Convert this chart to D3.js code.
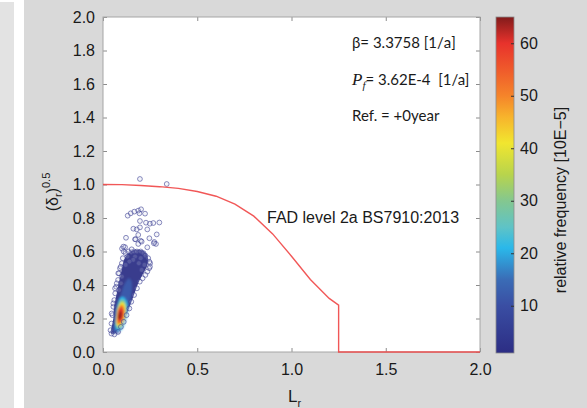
<!DOCTYPE html>
<html>
<head>
<meta charset="utf-8">
<script src="https://cdn.jsdelivr.net/npm/d3@7"></script>
<style>
  body { margin: 0; background: #fff; }
  text { font-family: "Liberation Sans", Arial, sans-serif; fill: #1a1a1a; }
  .note { font-family: Lato, "Open Sans", sans-serif; }
</style>
</head>
<body>
<svg width="587" height="408"></svg>
<script>
// ---- data ----
var xTicks = [0, 0.5, 1.0, 1.5, 2.0];
var yTicks = [0, 0.2, 0.4, 0.6, 0.8, 1.0, 1.2, 1.4, 1.6, 1.8, 2.0];
var cbTicks = [10, 20, 30, 40, 50, 60];

// FAD level 2a curve (Lr, Kr)
var fadLr = [0, 0.1, 0.2, 0.3, 0.4, 0.5, 0.6, 0.7, 0.8, 0.9, 1.0, 1.1, 1.2, 1.25, 1.25, 2.0];
var fadKr = [1.0, 0.999, 0.994, 0.987, 0.977, 0.958, 0.930, 0.883, 0.811, 0.705, 0.572, 0.433, 0.320, 0.280, 0, 0];

// sparse points (Lr, sqrt(delta_r))
var outliers = [
  [0.196, 1.033], [0.338, 1.003],
  [0.131, 0.814], [0.147, 0.828], [0.166, 0.838], [0.187, 0.844], [0.202, 0.852], [0.193, 0.828],
  [0.223, 0.826], [0.196, 0.782], [0.228, 0.772], [0.249, 0.766], [0.267, 0.770], [0.299, 0.773],
  [0.161, 0.736], [0.179, 0.732], [0.196, 0.744], [0.235, 0.732], [0.187, 0.699], [0.285, 0.702],
  [0.122, 0.682], [0.173, 0.673], [0.200, 0.664], [0.246, 0.679], [0.272, 0.657], [0.281, 0.645],
  [0.187, 0.645], [0.235, 0.625], [0.101, 0.617], [0.117, 0.626], [0.152, 0.613], [0.108, 0.629],
  [0.205, 0.659], [0.170, 0.673], [0.249, 0.509], [0.246, 0.539], [0.270, 0.649]
];

// points on the rim of the dense cloud
var rimPoints = [
  [0.11, 0.60], [0.12, 0.59], [0.135, 0.60], [0.15, 0.595], [0.165, 0.60], [0.18, 0.60], [0.20, 0.60],
  [0.215, 0.59], [0.225, 0.575], [0.24, 0.56], [0.25, 0.53], [0.245, 0.50], [0.235, 0.48], [0.225, 0.46],
  [0.21, 0.44], [0.195, 0.42], [0.18, 0.38], [0.165, 0.34], [0.15, 0.30], [0.14, 0.26], [0.125, 0.22],
  [0.11, 0.18], [0.095, 0.15], [0.08, 0.12], [0.06, 0.105], [0.045, 0.11], [0.04, 0.13], [0.045, 0.17],
  [0.05, 0.22], [0.055, 0.27], [0.06, 0.31], [0.065, 0.35], [0.07, 0.39], [0.08, 0.43], [0.085, 0.47],
  [0.09, 0.50], [0.10, 0.53], [0.105, 0.56], [0.13, 0.57], [0.17, 0.57], [0.20, 0.56], [0.19, 0.53],
  [0.16, 0.55], [0.14, 0.54], [0.12, 0.52], [0.22, 0.52], [0.205, 0.49], [0.10, 0.45], [0.095, 0.41],
  [0.085, 0.37], [0.094, 0.509], [0.081, 0.47], [0.073, 0.41], [0.064, 0.38], [0.055, 0.29], [0.046, 0.23]
];

// density contours: frequency value and outline (Lr, sqrt(delta_r))
var levelValues = [2, 12, 21, 30, 41, 51, 59, 64];
var levelShapes = [
  [[0.041, 0.117], [0.055, 0.201], [0.058, 0.271], [0.073, 0.35], [0.087, 0.43], [0.099, 0.49], [0.108, 0.539],
   [0.126, 0.579], [0.152, 0.605], [0.187, 0.61], [0.214, 0.605], [0.232, 0.585], [0.24, 0.549], [0.232, 0.509],
   [0.214, 0.47], [0.187, 0.41], [0.161, 0.33], [0.134, 0.251], [0.108, 0.181], [0.081, 0.131], [0.058, 0.107]],
  [[0.051, 0.121], [0.064, 0.191], [0.081, 0.291], [0.108, 0.39], [0.134, 0.44], [0.152, 0.42], [0.152, 0.35],
   [0.134, 0.251], [0.108, 0.161], [0.081, 0.111]],
  [[0.064, 0.161], [0.069, 0.251], [0.087, 0.32], [0.111, 0.327], [0.129, 0.291], [0.126, 0.211], [0.104, 0.141], [0.076, 0.127]],
  [[0.067, 0.171], [0.073, 0.251], [0.09, 0.306], [0.111, 0.31], [0.124, 0.275], [0.12, 0.207], [0.101, 0.151], [0.078, 0.141]],
  [[0.069, 0.181], [0.076, 0.251], [0.094, 0.294], [0.111, 0.294], [0.12, 0.261], [0.115, 0.201], [0.097, 0.161], [0.078, 0.155]],
  [[0.073, 0.191], [0.078, 0.251], [0.094, 0.281], [0.108, 0.275], [0.115, 0.241], [0.108, 0.191], [0.09, 0.167], [0.076, 0.167]],
  [[0.076, 0.201], [0.081, 0.245], [0.094, 0.267], [0.106, 0.257], [0.108, 0.221], [0.099, 0.187], [0.085, 0.181]],
  [[0.08, 0.211], [0.087, 0.241], [0.097, 0.245], [0.101, 0.221], [0.094, 0.197], [0.083, 0.195]]
];

// colormap stops
var cmapValues = [1, 10, 15, 21, 25, 30, 35, 41, 46, 50, 55, 60, 65];
var cmapColors = ["#2c2d84", "#3a4ea3", "#3a6cb6", "#2ab8ea", "#5fc3c6", "#84c78f", "#b8d44c",
                  "#f1e62f", "#f7b32c", "#f5842a", "#ef5a2b", "#e8322c", "#821b1b"];

// ---- drawing ----
var svg = d3.select("svg");
var color = d3.scaleLinear().domain(cmapValues).range(cmapColors);

var x = d3.scaleLinear().domain([0, 2]).range([103, 480]);
var y = d3.scaleLinear().domain([0, 2]).range([352, 17]);
var cy = d3.scaleLinear().domain([1, 65]).range([353, 17]);

// backgrounds
svg.append("rect").attr("x", 0).attr("y", 2).attr("width", 14).attr("height", 406).attr("fill", "#e3e3e3");
svg.append("rect").attr("x", 24).attr("y", 0).attr("width", 563).attr("height", 408).attr("fill", "#d9d9d9");
svg.append("rect").attr("x", 103).attr("y", 17).attr("width", 377).attr("height", 335).attr("fill", "#fff");

var defs = svg.append("defs");
defs.append("filter").attr("id", "soft").append("feGaussianBlur").attr("stdDeviation", 1.1);
defs.append("clipPath").attr("id", "plotclip").append("rect")
    .attr("x", 103).attr("y", 17).attr("width", 377).attr("height", 335);

var plot = svg.append("g").attr("clip-path", "url(#plotclip)");

var shape = d3.line()
    .x(function(d) { return x(d[0]); })
    .y(function(d) { return y(d[1]); })
    .curve(d3.curveCardinalClosed.tension(0.3));

// base dense region
plot.append("path")
    .attr("d", shape(levelShapes[0]))
    .attr("fill", color(levelValues[0]))
    .attr("opacity", 0.95);

var inner = plot.append("g").attr("filter", "url(#soft)");
inner.selectAll("path")
    .data(levelShapes.slice(1))
    .enter().append("path")
    .attr("d", shape)
    .attr("fill", function(d, i) { return color(levelValues[i + 1]); });

// scatter markers
plot.selectAll(".pt")
    .data(rimPoints.concat(outliers))
    .enter().append("circle")
    .attr("class", "pt")
    .attr("cx", function(d) { return x(d[0]); })
    .attr("cy", function(d) { return y(d[1]); })
    .attr("r", 2.4)
    .attr("fill", "#c9cbe6")
    .attr("fill-opacity", 0.2)
    .attr("stroke", "#3a3e92")
    .attr("stroke-opacity", 0.65)
    .attr("stroke-width", 0.9);

// axes with inward ticks
var axisColor = "#8c8c8c";
function styleAxis(g) {
    g.select(".domain").remove();
    g.selectAll(".tick line").attr("stroke", axisColor);
    g.selectAll(".tick text").style("font-size", "16px").attr("fill", "#1a1a1a");
}
svg.append("g").attr("transform", "translate(0,352)")
    .call(d3.axisBottom(x).tickValues(xTicks).tickFormat(d3.format(".1f")).tickSize(-4).tickPadding(12))
    .call(styleAxis);
svg.append("g").attr("transform", "translate(0,17)")
    .call(d3.axisTop(x).tickValues(xTicks).tickSize(-4).tickFormat(""))
    .call(styleAxis);
svg.append("g").attr("transform", "translate(103,0)")
    .call(d3.axisLeft(y).tickValues(yTicks).tickFormat(d3.format(".1f")).tickSize(-4).tickPadding(8))
    .call(styleAxis);
svg.append("g").attr("transform", "translate(480,0)")
    .call(d3.axisRight(y).tickValues(yTicks).tickSize(-4).tickFormat(""))
    .call(styleAxis);

svg.append("rect").attr("x", 103).attr("y", 17).attr("width", 377).attr("height", 335)
    .attr("fill", "none").attr("stroke", "#a6a6a6").attr("stroke-width", 1);

// FAD curve, drawn over the frame so the Kr = 0 part shows along the bottom
svg.append("path")
    .datum(d3.range(fadLr.length))
    .attr("d", d3.line()
        .x(function(i) { return x(fadLr[i]); })
        .y(function(i) { return y(fadKr[i]); }))
    .attr("fill", "none")
    .attr("stroke", "#f04545")
    .attr("stroke-opacity", 0.9)
    .attr("stroke-width", 1.4);

// axis titles
svg.append("text").attr("x", 288).attr("y", 402).style("font-size", "17px")
    .text("L").append("tspan").attr("dy", 5).style("font-size", "11px").text("r");

var yl = svg.append("text")
    .attr("transform", "translate(58,192) rotate(-90)")
    .attr("text-anchor", "middle")
    .style("font-size", "16px");
yl.append("tspan").text("(δ");
yl.append("tspan").attr("dy", 4).style("font-size", "11px").text("r");
yl.append("tspan").attr("dy", -4).text(")");
yl.append("tspan").attr("dy", -8).style("font-size", "11px").text("0.5");

// annotations
svg.append("text").attr("class", "note").attr("x", 352).attr("y", 48).style("font-size", "15px")
    .text("β= 3.3758 [1/a]");
var pf = svg.append("text").attr("class", "note").attr("x", 352).attr("y", 85).style("font-size", "15px");
pf.append("tspan").style("font-family", "'Liberation Serif', serif").style("font-style", "italic").style("font-size", "17px").text("P");
pf.append("tspan").attr("dy", 4).style("font-family", "'Liberation Serif', serif").style("font-style", "italic").style("font-size", "11px").text("f");
pf.append("tspan").attr("dy", -4).text("= 3.62E-4\u00a0\u00a0[1/a]");
svg.append("text").attr("class", "note").attr("x", 352).attr("y", 121).style("font-size", "15px")
    .text("Ref. = +0year");

svg.append("text").attr("x", 267).attr("y", 223).style("font-size", "16px")
    .text("FAD level 2a BS7910:2013");

// colorbar
var grad = defs.append("linearGradient").attr("id", "cbar")
    .attr("x1", 0).attr("y1", 1).attr("x2", 0).attr("y2", 0);
grad.selectAll("stop")
    .data(cmapValues)
    .enter().append("stop")
    .attr("offset", function(d) { return (d - 1) / 64; })
    .attr("stop-color", function(d) { return color(d); });

svg.append("rect").attr("x", 496).attr("y", 17).attr("width", 18).attr("height", 336)
    .attr("fill", "url(#cbar)").attr("stroke", "#8c8c8c").attr("stroke-width", 0.8);

svg.append("g").attr("transform", "translate(514,0)")
    .call(d3.axisRight(cy).tickValues(cbTicks).tickSize(-3).tickPadding(6))
    .call(styleAxis)
    .call(function(g) { g.selectAll(".tick line").attr("stroke", "#333"); });

svg.append("text")
    .attr("transform", "translate(566,200) rotate(-90)")
    .attr("text-anchor", "middle")
    .style("font-size", "16px")
    .text("relative frequency [10E−5]");
</script>
</body>
</html>
